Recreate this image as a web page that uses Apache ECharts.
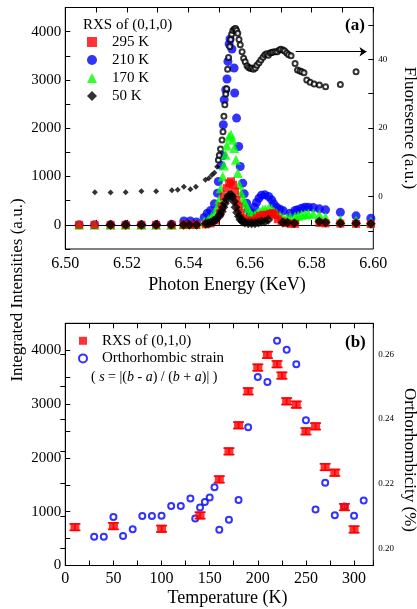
<!DOCTYPE html>
<html><head><meta charset="utf-8">
<script src="https://cdn.jsdelivr.net/npm/echarts@6/dist/echarts.min.js"></script>
<style>html,body{margin:0;padding:0;background:#fff}#c{width:417px;height:609px}</style>
</head><body><div id="c"></div>
<script>
// ---------- Panel (a): RXS of (0,1,0) vs photon energy ----------
const rxs295E = [6.5045,6.5095,6.5147,6.5196,6.5247,6.5295,6.5345,6.5384,6.5404,6.5425,6.5456,6.5472,6.5488,6.5502,6.5508,6.5515,6.5524,6.5532,6.5538,6.5545,6.5551,6.5556,6.5563,6.5569,6.5578,6.5589,6.5600,6.5610,6.5621,6.5632,6.5643,6.5654,6.5665,6.5673,6.5682,6.5690,6.5702,6.5719,6.5732,6.5746,6.5825,6.5845,6.5893,6.5944,6.5992];
const rxs295I = [0,0,0,0,0,0,0,0,0,0,10,30,90,242,380,587,760,863,900,829,691,518,380,242,138,90,69,90,138,187,207,207,228,242,207,117,69,35,21,21,40,30,25,20,15];

const rxs210E = [6.5045,6.5095,6.5147,6.5196,6.5247,6.5295,6.5345,6.5385,6.5406,6.5426,6.5451,6.5461,6.5472,6.5484,6.5494,6.5497,6.5506,6.5511,6.5513,6.5516,6.5521,6.5525,6.5528,6.5532,6.5535,6.5541,6.5548,6.5550,6.5556,6.5563,6.5568,6.5576,6.5581,6.5589,6.5594,6.5602,6.5607,6.5614,6.5621,6.5629,6.5637,6.5648,6.5660,6.5670,6.5677,6.5686,6.5697,6.5708,6.5730,6.5746,6.5754,6.5767,6.5778,6.5789,6.5805,6.5825,6.5845,6.5893,6.5944,6.5992];
const rxs210I = [0,0,0,0,0,0,10,80,80,60,152,242,297,435,656,898,1230,1430,2072,2590,2797,3019,3384,3744,3847,3640,3247,2729,2210,1623,1209,863,642,449,311,207,242,366,463,553,615,622,587,518,435,366,325,290,242,297,311,345,366,366,359,332,311,262,187,138];

const rxs170E = [6.5045,6.5095,6.5147,6.5196,6.5247,6.5295,6.5345,6.5384,6.5404,6.5425,6.5451,6.5464,6.5475,6.5486,6.5494,6.5500,6.5505,6.5511,6.5515,6.5520,6.5524,6.5532,6.5538,6.5543,6.5549,6.5554,6.5560,6.5565,6.5571,6.5578,6.5584,6.5592,6.5600,6.5607,6.5616,6.5623,6.5632,6.5641,6.5649,6.5660,6.5670,6.5677,6.5686,6.5697,6.5708,6.5719,6.5730,6.5746,6.5756,6.5767,6.5778,6.5789,6.5805,6.5825,6.5845,6.5893,6.5944,6.5992];
const rxs170I = [0,0,0,0,0,0,0,10,20,20,69,104,173,242,380,532,760,1002,1230,1451,1644,1830,1865,1761,1589,1347,1071,829,656,518,435,345,242,187,207,242,276,311,325,345,325,276,242,187,138,138,159,173,187,207,221,228,228,207,159,104,90,69];

const rxs50E = [6.5147,6.5196,6.5247,6.5295,6.5344,6.5384,6.5403,6.5426,6.5456,6.5464,6.5472,6.5481,6.5488,6.5496,6.5502,6.5508,6.5513,6.5518,6.5524,6.5530,6.5537,6.5542,6.5548,6.5553,6.5558,6.5564,6.5569,6.5576,6.5583,6.5594,6.5605,6.5616,6.5627,6.5637,6.5648,6.5659,6.5706,6.5721,6.5744,6.5825,6.5845,6.5893,6.5944,6.5992];
const rxs50I = [0,0,0,0,0,0,0,0,21,35,48,69,104,159,207,276,366,449,532,601,622,587,484,366,256,173,104,69,48,35,35,35,48,69,69,104,48,48,35,69,48,35,35,21];

// Fluorescence (right axis)
const fluoPreE = [6.5096,6.5147,6.5196,6.5247,6.5295,6.5346,6.5365,6.5385,6.5406,6.5424,6.5455,6.5466,6.5476,6.5484,6.5493];
const fluoPreF = [1.3,1.2,1.3,1.6,1.6,1.9,2.0,2.9,2.2,2.9,4.9,5.4,6.3,7.0,8.7];
const fluoE = [6.5497,6.5500,6.5504,6.5509,6.5512,6.5515,6.5518,6.5521,6.5524,6.5527,6.5530,6.5534,6.5537,6.5540,6.5544,6.5549,6.5553,6.5556,6.5560,6.5564,6.5568,6.5574,6.5579,6.5584,6.5590,6.5595,6.5601,6.5606,6.5611,6.5617,6.5622,6.5629,6.5635,6.5642,6.5648,6.5654,6.5659,6.5665,6.5670,6.5675,6.5682,6.5688,6.5695,6.5700,6.5707,6.5712,6.5719,6.5725,6.5733,6.5746,6.5754,6.5762,6.5768,6.5775,6.5784,6.5795,6.5808,6.5825,6.5845,6.5893,6.5944];
const fluoF = [10.7,12.1,13.9,16.5,18.9,23.4,26.8,29.9,31.4,37.1,40.5,43.7,45.8,47.3,48.4,48.8,49.0,48.4,47.6,45.8,44.2,42.2,40.3,39.3,38.1,37.6,37.3,37.5,37.1,37.5,38.3,39.0,39.8,40.6,41.3,41.6,41.2,41.8,42.0,42.1,42.2,42.2,42.7,42.9,42.7,42.4,41.8,41.3,41.0,38.8,36.9,36.6,36.4,36.1,34.0,33.3,32.8,32.5,32.0,32.7,36.4];
const arrowE = [6.5748, 6.5978];
const arrowF = 42.2;

// ---------- Panel (b): integrated intensity & orthorhombicity vs temperature ----------
const rxsT = [10,50,100,140,160,170,180,190,200,210,220,225,230,240,250,260,270,280,290,300];
const rxsInt = [713,732,682,930,1600,2121,2605,3237,3678,3913,3740,3529,3051,2989,2493,2586,1829,1724,1085,670];
const rxsErr = [60,60,60,60,60,60,60,60,60,60,60,60,60,60,60,60,60,60,60,60];
const orthoT = [30,40,50,60,70,80,90,100,110,120,130,135,140,145,150,155,160,170,180,190,200,210,220,230,240,250,260,270,280,290,300,310];
const orthoS = [0.2036,0.2036,0.2097,0.2038,0.2059,0.2100,0.2100,0.2101,0.2131,0.2131,0.2154,0.2092,0.2126,0.2143,0.2157,0.2189,0.2057,0.2088,0.2149,0.2374,0.2530,0.2514,0.2642,0.2614,0.2569,0.2396,0.2120,0.2203,0.2102,0.2129,0.2101,0.2148];

const FONT = 'Liberation Serif';
const zip = (xs, ys) => xs.map((x, i) => [x, ys[i]]);

const chart = echarts.init(document.getElementById('c'), null, {renderer: 'canvas'});

const tickStyle = {show: true, inside: true, length: 5, lineStyle: {color: '#000', width: 1}};
const axLine = {show: true, lineStyle: {color: '#000', width: 1}};

const option = {
  animation: false,
  backgroundColor: '#fff',
  grid: [
    {left: 65.3, right: 43.7, top: 7.5, bottom: 360, show: true, borderColor: '#000', borderWidth: 1, backgroundColor: 'transparent'},
    {left: 65.3, right: 43.7, top: 24.95, bottom: 377.95},
    {left: 65.3, right: 43.7, top: 323.3, bottom: 43.5, show: true, borderColor: '#000', borderWidth: 1, backgroundColor: 'transparent'},
    {left: 65.3, right: 43.7, top: 354.3, bottom: 60.7}
  ],
  xAxis: [
    {gridIndex: 0, type: 'value', min: 6.50, max: 6.60, interval: 0.01, position: 'bottom',
      axisLine: axLine, axisTick: tickStyle, splitLine: {show: false},
      axisLabel: {margin: 7, fontFamily: FONT, fontSize: 16, color: '#000',
        formatter: v => (Math.round(v * 100) % 2 === 0 ? v.toFixed(2) : '')}},
    {gridIndex: 0, type: 'value', min: 6.50, max: 6.60, interval: 0.01, position: 'top',
      axisLine: axLine, axisTick: tickStyle, splitLine: {show: false}, axisLabel: {show: false}},
    {gridIndex: 1, type: 'value', min: 6.50, max: 6.60, show: false},
    {gridIndex: 2, type: 'value', min: 0, max: 320, interval: 25, position: 'bottom',
      axisLine: axLine, axisTick: tickStyle, splitLine: {show: false},
      axisLabel: {margin: 5, fontFamily: FONT, fontSize: 16, color: '#000',
        formatter: v => (v % 50 === 0 && v <= 300 ? String(v) : '')}},
    {gridIndex: 2, type: 'value', min: 0, max: 320, interval: 25, position: 'top',
      axisLine: axLine, axisTick: tickStyle, splitLine: {show: false}, axisLabel: {show: false}},
    {gridIndex: 3, type: 'value', min: 0, max: 320, show: false}
  ],
  yAxis: [
    {gridIndex: 0, type: 'value', min: -500, max: 4500, interval: 500, position: 'left',
      axisLine: axLine, axisTick: tickStyle, splitLine: {show: false},
      axisLabel: {margin: 4, fontFamily: FONT, fontSize: 15, color: '#000',
        formatter: v => (v >= 0 && v % 1000 === 0 ? String(v) : '')}},
    {gridIndex: 1, type: 'value', min: -10, max: 50, interval: 10, position: 'right',
      axisLine: {show: false}, axisTick: tickStyle, splitLine: {show: false},
      axisLabel: {margin: 5, fontFamily: FONT, fontSize: 9, color: '#000',
        formatter: v => (v % 20 === 0 ? String(v) : '')}},
    {gridIndex: 2, type: 'value', min: 0, max: 4500, interval: 500, position: 'left',
      axisLine: axLine, axisTick: tickStyle, splitLine: {show: false},
      axisLabel: {margin: 4, fontFamily: FONT, fontSize: 15, color: '#000',
        formatter: v => (v % 1000 === 0 ? String(v) : '')}},
    {gridIndex: 3, type: 'value', min: 0.20, max: 0.26, interval: 0.01, position: 'right',
      axisLine: {show: false}, axisTick: tickStyle, splitLine: {show: false},
      axisLabel: {margin: 5, fontFamily: FONT, fontSize: 9, color: '#000',
        formatter: v => (Math.round(v * 100) % 2 === 0 ? v.toFixed(2) : '')}}
  ],
  legend: [
    {data: ['295 K', '210 K', '170 K', '50 K'], orient: 'vertical', left: 87, top: 33, padding: 0,
      itemWidth: 10, itemHeight: 10, itemGap: 0, selectedMode: false,
      textStyle: {fontFamily: FONT, fontSize: 15, color: '#000', lineHeight: 18, padding: [0, 0, 0, 10]}},
    {data: ['RXS of (0,1,0)', 'Orthorhombic strain'], orient: 'vertical', left: 78, top: 332, padding: 0,
      itemWidth: 8, itemHeight: 8, itemGap: 0, selectedMode: false,
      textStyle: {fontFamily: FONT, fontSize: 15, color: '#000', lineHeight: 17.6, padding: [0, 0, 0, 10]}}
  ],
  series: [
    {name: '210 K', type: 'scatter', xAxisIndex: 0, yAxisIndex: 0, symbol: 'circle', symbolSize: 9,
      itemStyle: {color: '#0000ff'}, data: zip(rxs210E, rxs210I), z: 2},
    {name: 'Fluorescence', type: 'scatter', xAxisIndex: 2, yAxisIndex: 1, symbol: 'emptyCircle', symbolSize: 5, clip: false,
      itemStyle: {color: '#000', borderColor: '#000', borderWidth: 1}, data: zip(fluoE, fluoF), z: 3,
      markLine: {silent: true, symbol: ['none', 'arrow'], symbolSize: 7, label: {show: false},
        lineStyle: {color: '#000', width: 1, type: 'solid'},
        data: [[{coord: [arrowE[0], arrowF]}, {coord: [arrowE[1], arrowF]}]]}},
    {name: 'Fluorescence pre-edge', type: 'scatter', xAxisIndex: 2, yAxisIndex: 1, symbol: 'diamond', symbolSize: 6, clip: false,
      itemStyle: {color: '#000'}, data: zip(fluoPreE, fluoPreF), z: 3},
    {name: '170 K', type: 'scatter', xAxisIndex: 0, yAxisIndex: 0, symbol: 'triangle', symbolSize: 10,
      itemStyle: {color: '#00ff00'}, data: zip(rxs170E, rxs170I), z: 4},
    {name: '295 K', type: 'scatter', xAxisIndex: 0, yAxisIndex: 0, symbol: 'rect', symbolSize: 8,
      itemStyle: {color: '#ff0000'}, data: zip(rxs295E, rxs295I), z: 5},
    {name: '50 K', type: 'scatter', xAxisIndex: 0, yAxisIndex: 0, symbol: 'diamond', symbolSize: 10,
      itemStyle: {color: '#000'}, data: zip(rxs50E, rxs50I), z: 6},

    {name: 'Orthorhombic strain', type: 'scatter', xAxisIndex: 5, yAxisIndex: 3, symbol: 'emptyCircle', symbolSize: 6, clip: false,
      itemStyle: {color: '#0000ff', borderColor: '#0000ff', borderWidth: 1.2}, data: zip(orthoT, orthoS), z: 2},
    {name: 'RXS error', type: 'custom', xAxisIndex: 3, yAxisIndex: 2, z: 3,
      encode: {x: 0, y: [1, 2]},
      data: rxsT.map((t, i) => [t, rxsInt[i] - rxsErr[i], rxsInt[i] + rxsErr[i]]),
      renderItem: (params, api) => {
        const lo = api.coord([api.value(0), api.value(1)]);
        const hi = api.coord([api.value(0), api.value(2)]);
        const hw = 5.5;
        const st = {stroke: '#ff0000', lineWidth: 1.6};
        return {type: 'group', children: [
          {type: 'line', shape: {x1: lo[0], y1: lo[1], x2: hi[0], y2: hi[1]}, style: st},
          {type: 'line', shape: {x1: lo[0] - hw, y1: lo[1], x2: lo[0] + hw, y2: lo[1]}, style: st},
          {type: 'line', shape: {x1: hi[0] - hw, y1: hi[1], x2: hi[0] + hw, y2: hi[1]}, style: st}
        ]};
      }},
    {name: 'RXS of (0,1,0)', type: 'scatter', xAxisIndex: 3, yAxisIndex: 2, symbol: 'rect', symbolSize: [9, 8],
      itemStyle: {color: '#ff0000'}, data: zip(rxsT, rxsInt), z: 4}
  ],
  graphic: [
    {type: 'text', x: 83, y: 25, style: {text: 'RXS of (0,1,0)', fontFamily: FONT, fontSize: 15, fill: '#000', textAlign: 'left', textVerticalAlign: 'middle'}},
    {type: 'text', x: 345, y: 26, style: {text: '(a)', fontFamily: FONT, fontSize: 17, fontWeight: 'bold', fill: '#000', textAlign: 'left', textVerticalAlign: 'middle'}},
    {type: 'text', x: 345, y: 343, style: {text: '(b)', fontFamily: FONT, fontSize: 17, fontWeight: 'bold', fill: '#000', textAlign: 'left', textVerticalAlign: 'middle'}},
    {type: 'text', x: 91, y: 377, style: {text: '( {i|s} = |({i|b} - {i|a}) / ({i|b} + {i|a})| )', fontFamily: FONT, fontSize: 14, fill: '#000',
      textAlign: 'left', textVerticalAlign: 'middle',
      rich: {i: {fontStyle: 'italic', fontFamily: FONT, fontSize: 14, fill: '#000'}}}},
    {type: 'text', x: 18, y: 290, rotation: Math.PI / 2, style: {text: 'Integrated Intensities (a.u.)', fontFamily: FONT, fontSize: 17, fill: '#000', textAlign: 'center', textVerticalAlign: 'middle'}},
    {type: 'text', x: 409, y: 128, rotation: -Math.PI / 2, style: {text: 'Fluoresence (a.u.)', fontFamily: FONT, fontSize: 17, fill: '#000', textAlign: 'center', textVerticalAlign: 'middle'}},
    {type: 'text', x: 409, y: 460, rotation: -Math.PI / 2, style: {text: 'Orthorhombicity (%)', fontFamily: FONT, fontSize: 17, fill: '#000', textAlign: 'center', textVerticalAlign: 'middle'}},
    {type: 'text', x: 227, y: 285, style: {text: 'Photon Energy (KeV)', fontFamily: FONT, fontSize: 18, fill: '#000', textAlign: 'center', textVerticalAlign: 'middle'}},
    {type: 'text', x: 227.5, y: 598, style: {text: 'Temperature (K)', fontFamily: FONT, fontSize: 18, fill: '#000', textAlign: 'center', textVerticalAlign: 'middle'}}
  ]
};
chart.setOption(option);
</script>
</body></html>
